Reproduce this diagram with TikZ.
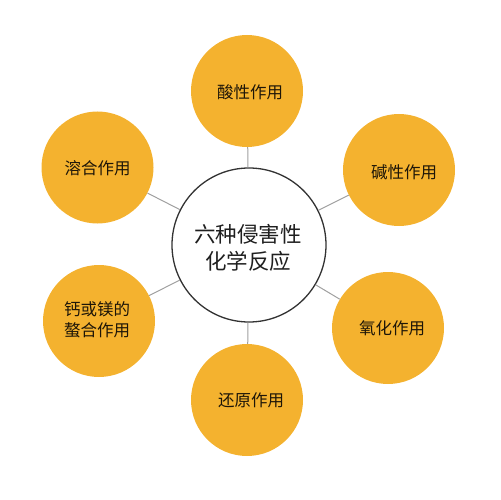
\documentclass[tikz,border=0pt]{standalone}
\usepackage{fontspec}
\newfontfamily\cjk{Noto Sans CJK SC}
\definecolor{orangefill}{HTML}{F4B22F}
\definecolor{linkgray}{HTML}{A0A0A0}
\definecolor{ringgray}{HTML}{333333}
\definecolor{txt}{HTML}{1E1608}
\begin{document}
\begin{tikzpicture}[x=1pt,y=-1pt,
  outer/.style={circle,fill=orangefill,minimum size=112pt,inner sep=0pt},
  center/.style={circle,draw=ringgray,line width=1.3pt,fill=white,minimum size=154pt,inner sep=0pt},
  lbl/.style={font=\cjk\fontsize{16.5}{21}\selectfont,text=txt,align=center},
  clbl/.style={font=\cjk\fontsize{21.5}{27}\selectfont,align=center,text=black!88},
  link/.style={draw=linkgray,line width=1pt}]
\useasboundingbox (0,0) rectangle (501,500);
\node[center] (c) at (249,245) {};
\node[outer] (o1) at (247,91) {};
\node[outer] (o2) at (399,170) {};
\node[outer] (o3) at (388,328) {};
\node[outer] (o4) at (247,400) {};
\node[outer] (o5) at (99,321) {};
\node[outer] (o6) at (97.5,167.5) {};
\foreach \o in {o1,o2,o3,o4,o5,o6} \draw[link] (c) -- (\o);
\node[clbl] (ct) at (248,248) {六种侵害性\\化学反应};
\node[lbl] (t1) at (250,92) {酸性作用};
\node[lbl] (t2) at (404,172) {碱性作用};
\node[lbl] (t3) at (392,328) {氧化作用};
\node[lbl] (t4) at (251,400) {还原作用};
\node[lbl] (t5) at (97,320) {钙或镁的\\螯合作用};
\node[lbl] (t6) at (97.5,168) {溶合作用};
\end{tikzpicture}
\end{document}
